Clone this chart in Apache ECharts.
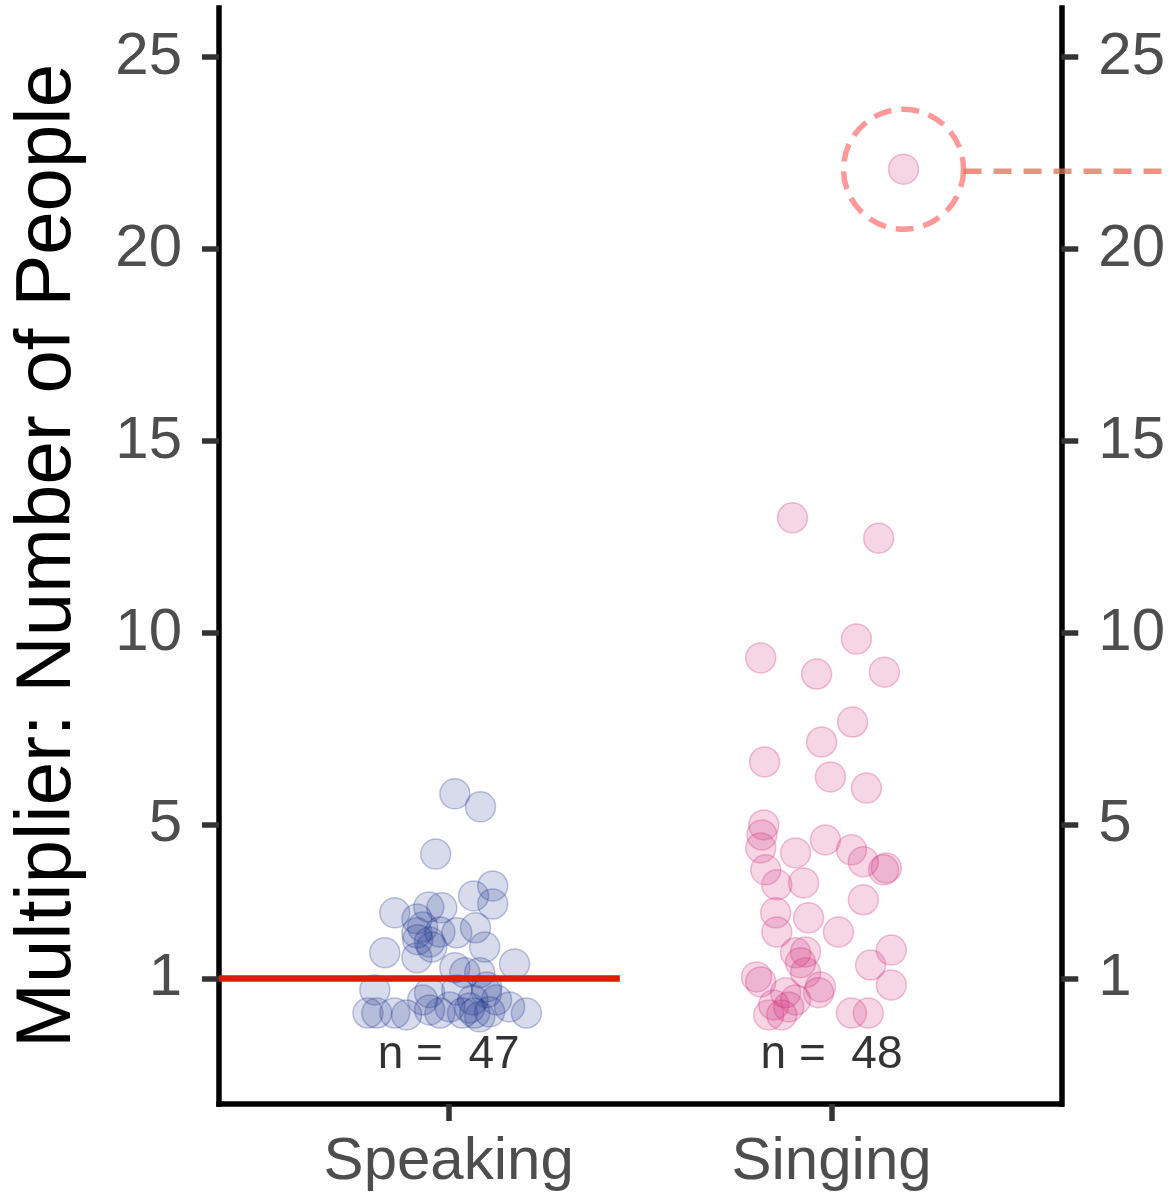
<!DOCTYPE html>
<html><head><meta charset="utf-8">
<script src="https://cdn.jsdelivr.net/npm/echarts@6/dist/echarts.min.js"></script>
<style>html,body{margin:0;padding:0;background:#fff}#c{width:1168px;height:1197px}</style>
</head><body><div id="c"></div>
<script>
// ---- data ----
const categories = ['Speaking', 'Singing'];
const yTicks = [1, 5, 10, 15, 20, 25];
const yTitle = 'Multiplier: Number of People';
const referenceLevel = 1;

// horizontal jitter (in category units) and values
const speakingJitter = [0.016,0.083,-0.034,0.115,0.065,0.115,-0.141,-0.052,-0.018,-0.083,-0.068,0.021,0.070,-0.023,-0.081,-0.050,0.094,-0.167,-0.083,0.172,0.016,0.081,-0.193,-0.050,0.021,0.099,-0.188,-0.141,-0.211,-0.050,-0.023,0.055,0.068,0.081,0.107,0.159,0.203,0.036,-0.068,0.003,0.125,-0.110,0.063,0.099,-0.083,-0.044,0.042];
const speakingY = [5.81,5.47,4.24,3.41,3.15,2.94,2.71,2.86,2.84,2.55,2.34,2.19,2.32,2.21,2.01,1.95,1.82,1.67,1.54,1.38,1.28,1.15,0.70,0.63,0.70,0.78,0.10,0.10,0.10,0.18,0.10,0.23,0.10,0.00,0.13,0.26,0.10,0.10,0.44,0.26,0.44,0.05,0.44,0.63,2.19,1.82,1.15];

const singingJitter = [-0.102,0.123,0.065,-0.185,-0.039,0.138,0.055,-0.026,-0.175,-0.003,0.091,-0.177,-0.182,-0.185,-0.094,-0.016,0.052,0.083,0.136,0.143,-0.172,-0.143,-0.073,0.083,-0.146,-0.060,0.018,-0.143,0.156,-0.094,-0.068,-0.081,0.102,-0.196,-0.185,-0.029,0.156,-0.068,-0.120,-0.094,-0.164,-0.130,-0.112,0.052,0.096,-0.034,-0.151,0.188];
const singingY = [13.0,12.47,9.84,9.35,8.93,8.98,7.68,7.16,6.64,6.25,5.96,5.0,4.74,4.40,4.27,4.61,4.35,4.04,3.83,3.88,3.83,3.44,3.49,3.05,2.71,2.58,2.21,2.21,1.74,1.67,1.69,1.41,1.35,1.04,0.91,0.78,0.83,1.15,0.63,0.44,0.05,0.05,0.26,0.10,0.10,0.63,0.31,22.08];

// ---- build ----
const speakingPts = speakingY.map((v, i) => [1 + speakingJitter[i], v]);
const singingPts = singingY.map((v, i) => [2 + singingJitter[i], v]);
let outIdx = 0;
singingY.forEach((v, i) => { if (v > singingY[outIdx]) outIdx = i; });
const outlier = singingPts[outIdx];

const FONT = '"Liberation Sans", Arial, sans-serif';
const chart = echarts.init(document.getElementById('c'), null, {renderer: 'canvas'});

function yAxisCfg(pos) {
  return {
    type: 'value', min: -2.27, max: 26.28, position: pos,
    axisLine: {show: true, onZero: false, lineStyle: {color: '#000', width: 5.5, cap: 'square'}},
    axisTick: {show: true, customValues: yTicks, length: 17, lineStyle: {color: '#333', width: 5.5}},
    axisLabel: {show: true, customValues: yTicks, fontSize: 60, color: '#4d4d4d', margin: 37, fontFamily: FONT},
    splitLine: {show: false}
  };
}

chart.setOption({
  animation: false,
  backgroundColor: '#fff',
  grid: {left: 219, right: 105, top: 8, bottom: 93, containLabel: false},
  xAxis: {
    type: 'value', min: 0.4, max: 2.6,
    axisLine: {show: true, onZero: false, lineStyle: {color: '#000', width: 5.5, cap: 'square'}},
    axisTick: {show: true, customValues: [1, 2], length: 17, lineStyle: {color: '#333', width: 5.5}},
    axisLabel: {show: true, customValues: [1, 2], fontSize: 60, color: '#4d4d4d', margin: 28, fontFamily: FONT,
      formatter: v => categories[Math.round(v) - 1] || ''},
    splitLine: {show: false}
  },
  yAxis: [yAxisCfg('left'), yAxisCfg('right')],
  graphic: [{
    type: 'text', x: 48, y: 556, rotation: Math.PI / 2,
    style: {text: yTitle, fontSize: 78, fill: '#000', fontFamily: FONT, align: 'center', verticalAlign: 'middle'}
  }],
  series: [
    {
      type: 'scatter', data: speakingPts, symbolSize: 30, z: 2,
      itemStyle: {color: 'rgba(28,52,140,0.22)', borderColor: 'rgba(28,52,140,0.35)', borderWidth: 1.5}
    },
    {
      type: 'scatter', data: singingPts, symbolSize: 30, z: 2,
      itemStyle: {color: 'rgba(210,40,120,0.24)', borderColor: 'rgba(210,40,120,0.35)', borderWidth: 1.5}
    },
    {
      type: 'line', data: [[0.4, referenceLevel], [1.447, referenceLevel]], symbol: 'none', z: 5,
      lineStyle: {color: '#d61f00', width: 6.5}
    },
    {
      type: 'scatter', data: [outlier], symbolSize: 120, z: 4, silent: true,
      itemStyle: {color: 'rgba(0,0,0,0)', borderColor: '#ff8080', borderWidth: 5.5, borderType: [18, 10]}
    },
    {
      type: 'scatter', symbolSize: 0, z: 7,
      data: [[1, -1, 'n =  ' + speakingY.length], [2, -1, 'n =  ' + singingY.length]],
      label: {show: true, position: 'inside', formatter: p => p.data[2], fontSize: 46, color: '#000', fontFamily: FONT}
    }
  ]
});

// dashed connector from the highlight circle to the page edge (position derived from the outlier's data point)
const op = chart.convertToPixel({gridIndex: 0}, outlier);
chart.setOption({
  graphic: [{
    type: 'text', x: 48, y: 556, rotation: Math.PI / 2,
    style: {text: yTitle, fontSize: 78, fill: '#000', fontFamily: FONT, align: 'center', verticalAlign: 'middle'}
  }, {
    type: 'line', z: 100,
    shape: {x1: op[0] + 60, y1: op[1] + 2, x2: 1168, y2: op[1] + 2},
    style: {stroke: 'rgba(230,110,88,0.75)', lineWidth: 5.5, lineDash: [18, 12]}
  }]
});
</script></body></html>
